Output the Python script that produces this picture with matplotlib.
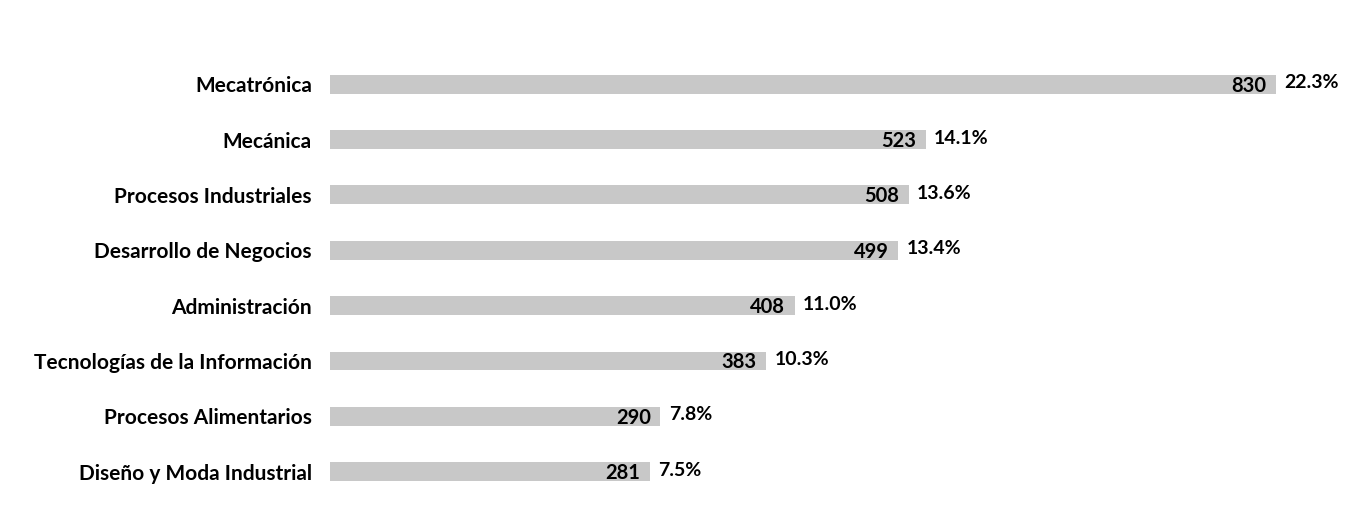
import matplotlib.pyplot as plt

# Data
carreras = ["Mecatrónica", "Mecánica", "Procesos Industriales", "Desarrollo de Negocios",
            "Administración", "Tecnologías de la Información", "Procesos Alimentarios",
            "Diseño y Moda Industrial"]
alumnos = [830, 523, 508, 499, 408, 383, 290, 281]
porcentajes = ["22.3%", "14.1%", "13.6%", "13.4%", "11.0%", "10.3%", "7.8%", "7.5%"]

plt.rcParams['font.family'] = ['Lato', 'DejaVu Sans']

fig = plt.figure(figsize=(13.61, 5.16), dpi=100)
ax = fig.add_axes([330 / 1361, 0, 1 - 330 / 1361, 1])

pos = list(range(len(carreras)))
ax.barh(pos, alumnos, height=0.34, color="#c8c8c8")

ax.set_xlim(0, 905)
ax.set_ylim(7.80, -1.52)

for y, v, p in zip(pos, alumnos, porcentajes):
    ax.annotate(str(v), (v, y), xytext=(-7, -1), textcoords="offset points",
                ha="right", va="center", fontsize=14.5, fontweight="bold")
    ax.annotate(p, (v, y), xytext=(6, 1), textcoords="offset points",
                ha="left", va="center", fontsize=14, fontweight="bold")

ax.set_yticks(pos)
ax.set_yticklabels(carreras, fontsize=15, fontweight="bold")
ax.tick_params(axis="y", length=0, pad=13)
ax.set_xticks([])
for s in ax.spines.values():
    s.set_visible(False)

fig.savefig("out.png", dpi=100)
